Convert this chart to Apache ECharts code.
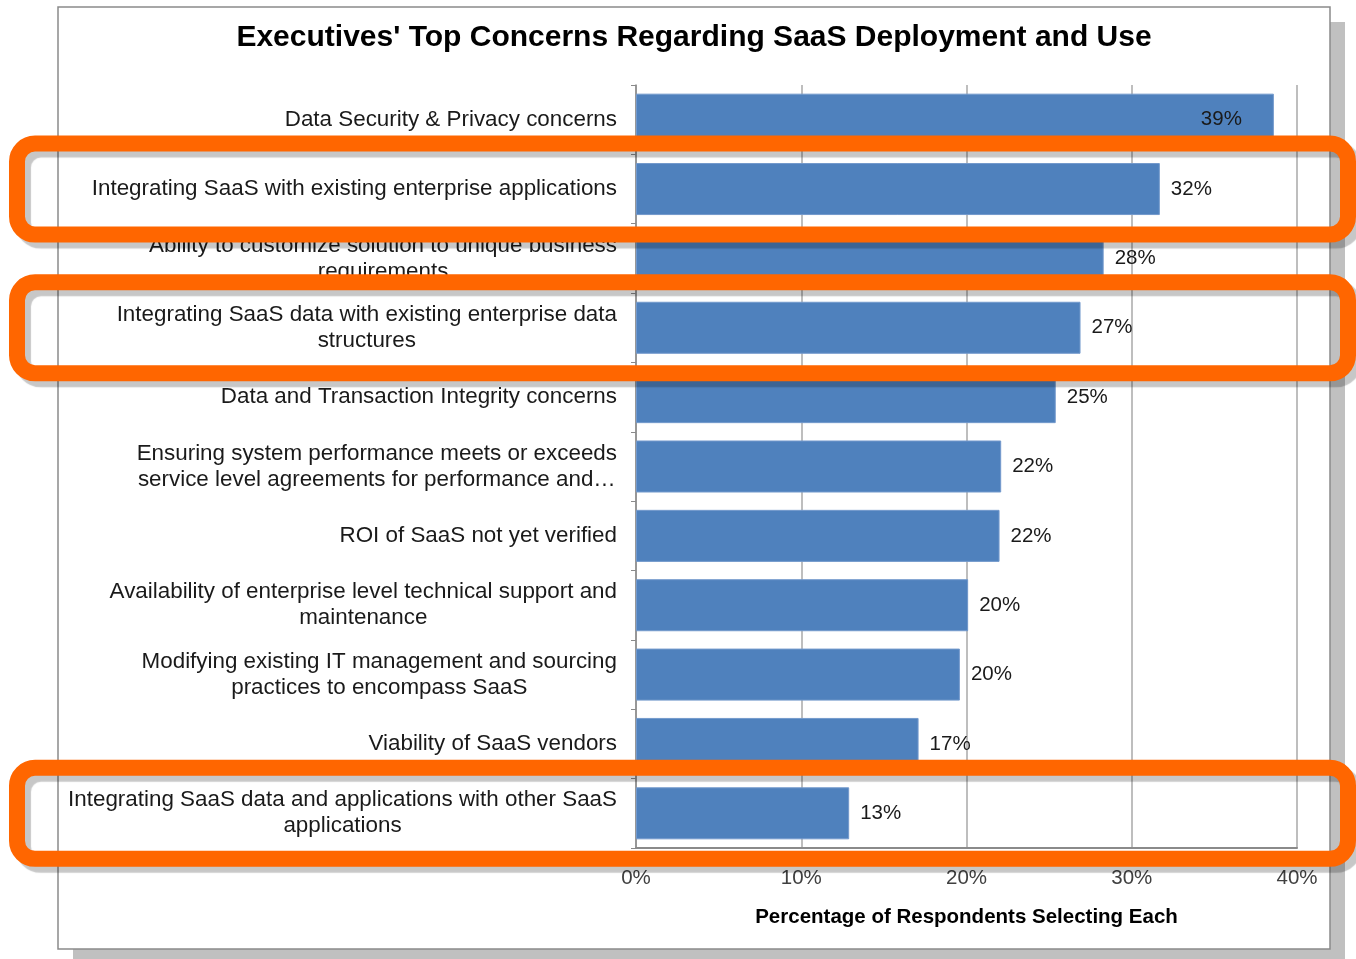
<!DOCTYPE html>
<html><head><meta charset="utf-8">
<script src="https://cdn.jsdelivr.net/npm/echarts@6/dist/echarts.min.js"></script>
<style>html,body{margin:0;padding:0;background:#fff}#c{width:1356px;height:959px}</style>
</head><body><div id="c"></div>
<script>
const chartTitle = "Executives' Top Concerns Regarding SaaS Deployment and Use";
const xAxisName = 'Percentage of Respondents Selecting Each';
const categories = [
  'Data Security & Privacy concerns',
  'Integrating SaaS with existing enterprise applications',
  'Ability to customize solution to unique business\nrequirements',
  'Integrating SaaS data with existing enterprise data\nstructures',
  'Data and Transaction Integrity concerns',
  'Ensuring system performance meets or exceeds\nservice level agreements for performance and…',
  'ROI of SaaS not yet verified',
  'Availability of enterprise level technical support and\nmaintenance',
  'Modifying existing IT management and sourcing\npractices to encompass SaaS',
  'Viability of SaaS vendors',
  'Integrating SaaS data and applications with other SaaS\napplications'
];
const values = [38.6, 31.7, 28.3, 26.9, 25.4, 22.1, 22.0, 20.1, 19.6, 17.1, 12.9];
const valueLabels = ['39%', '32%', '28%', '27%', '25%', '22%', '22%', '20%', '20%', '17%', '13%'];
const xTickValues = [0, 10, 20, 30, 40];
const highlightedRows = [1, 3, 10];

const FONT = "'Liberation Sans', Arial, sans-serif";
const chart = echarts.init(document.getElementById('c'), null, {renderer: 'canvas'});

const frameShadow = {
  type: 'rect', id: 'frameShadow', z: -11, silent: true,
  shape: {x: 73, y: 22, width: 1272, height: 942},
  style: {fill: '#c0c0c0'}
};
const frame = {
  type: 'rect', id: 'frame', z: -10, silent: true,
  shape: {x: 58, y: 7, width: 1272, height: 942},
  style: {fill: '#fff', stroke: '#8a8a8a', lineWidth: 1.5}
};

const option = {
  animation: false,
  textStyle: {fontFamily: FONT},
  title: {
    text: chartTitle, left: 694, top: 23, textAlign: 'center', padding: 0,
    textStyle: {fontSize: 30, fontWeight: 'bold', color: '#000', fontFamily: FONT}
  },
  grid: {left: 636, right: 59, top: 85, bottom: 111, containLabel: false, outerBoundsMode: 'none'},
  xAxis: {
    type: 'value', min: xTickValues[0], max: xTickValues[xTickValues.length - 1], interval: xTickValues[1] - xTickValues[0],
    axisLine: {show: true, lineStyle: {color: '#8a8a8a', width: 2}},
    axisTick: {show: false},
    splitLine: {show: true, lineStyle: {color: '#a8a8a8', width: 1.5}},
    axisLabel: {formatter: '{value}%', fontSize: 20.5, color: '#404040', margin: 20, fontFamily: FONT},
    name: xAxisName, nameLocation: 'middle', nameGap: 59,
    nameTextStyle: {fontSize: 20.5, fontWeight: 'bold', color: '#000', fontFamily: FONT}
  },
  yAxis: {
    type: 'category', data: categories, inverse: true,
    axisLine: {show: true, lineStyle: {color: '#8a8a8a', width: 1.5}},
    axisTick: {show: true, length: 5, lineStyle: {color: '#8a8a8a'}},
    axisLabel: {
      interval: 0, margin: 19, color: '#1a1a1a', fontSize: 22.4, lineHeight: 26, fontFamily: FONT,
      formatter: v => v.split('\n').map(s => '{c|' + s + '}').join('\n'),
      rich: {c: {align: 'center', fontSize: 22.4, lineHeight: 26, color: '#1a1a1a', fontFamily: FONT}}
    }
  },
  series: [{
    type: 'bar', silent: true,
    barWidth: '75%',
    data: values.map((v, i) => i === 0 ? {value: v, label: {position: 'insideRight', distance: 32}} : v),
    itemStyle: {color: '#4f81bd', borderColor: '#7399cc', borderWidth: 1},
    label: {show: true, position: 'right', distance: 11, fontSize: 20.5, color: '#1a1a1a', fontFamily: FONT,
            formatter: p => valueLabels[p.dataIndex]}
  }],
  graphic: {elements: [frameShadow, frame]}
};
chart.setOption(option);

const boxes = highlightedRows.map((row, k) => {
  const cy = chart.convertToPixel({yAxisIndex: 0}, row);
  return {
    type: 'rect', id: 'hl' + k, z: 100, silent: true,
    shape: {x: 17, y: cy - 45.5, width: 1331, height: 91, r: 18},
    style: {fill: null, stroke: '#ff6600', lineWidth: 16,
            shadowColor: 'rgba(0,0,0,0.22)', shadowOffsetX: 6, shadowOffsetY: 6, shadowBlur: 1}
  };
});
chart.setOption({graphic: {elements: [frameShadow, frame].concat(boxes)}});
</script></body></html>
